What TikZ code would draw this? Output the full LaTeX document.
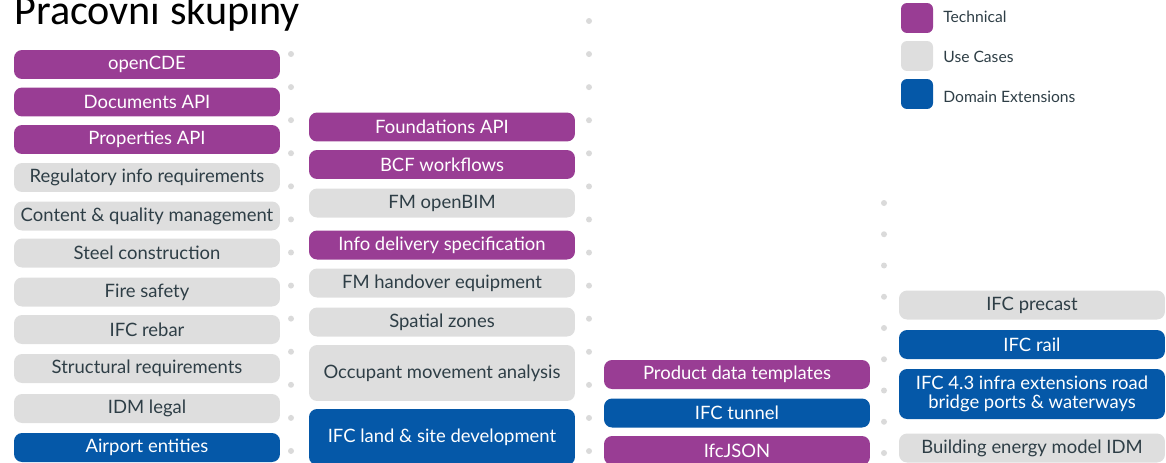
\documentclass[tikz,border=0pt]{standalone}
\usepackage{fontspec}
\newfontfamily\boxfont{Lato}
\newfontfamily\titlefont{Carlito}
\definecolor{techpurple}{RGB}{153,61,148}
\definecolor{usegray}{RGB}{222,222,222}
\definecolor{domblue}{RGB}{5,88,168}
\definecolor{usetext}{RGB}{46,62,70}
\definecolor{dotgray}{RGB}{218,218,218}
\tikzset{
  wgbox/.style={rounded corners=0.16cm, minimum width=5.32cm, minimum height=0.58cm,
    inner sep=0pt, align=center, font=\boxfont\fontsize{10.5}{11}\selectfont},
  tech/.style={wgbox, fill=techpurple, text=white},
  usecase/.style={wgbox, fill=usegray, text=usetext},
  domext/.style={wgbox, fill=domblue, text=white},
  legsquare/.style={rounded corners=0.12cm, minimum width=0.64cm, minimum height=0.6cm, inner sep=0pt},
  legtext/.style={anchor=west, inner sep=0pt, text=usetext, font=\boxfont\fontsize{8.9}{10}\selectfont}
}
\begin{document}
\begin{tikzpicture}[x=0.02cm, y=-0.02cm]
\useasboundingbox (0,0) rectangle (1166,463);

% titre
\node[anchor=base west, inner sep=0pt, font=\titlefont\fontsize{24}{26}\selectfont] (title) at (14,25) {Pracovni skupiny};

% pointillés entre les colonnes
\foreach \i in {0,...,12} {
  \fill[dotgray] (291,{54+\i*33.08}) circle (0.06cm);
}
\foreach \i in {0,...,13} {
  \fill[dotgray] (589,{21+\i*33.08}) circle (0.06cm);
}
\foreach \i in {0,...,8} {
  \fill[dotgray] (884,{203+\i*31.25}) circle (0.06cm);
}

% colonne 1
\node[tech] (opencde) at (147,64.5) {openCDE};
\node[tech] (docsapi) at (147,102) {Documents API};
\node[tech] (propsapi) at (147,139.5) {Properties API};
\node[usecase] (regul) at (147,177.5) {Regulatory info requirements};
\node[usecase] (contentq) at (147,216) {Content \& quality management};
\node[usecase] (steel) at (147,253) {Steel construction};
\node[usecase] (fire) at (147,292) {Fire safety};
\node[usecase] (rebar) at (147,329.5) {IFC rebar};
\node[usecase] (structreq) at (147,368.5) {Structural requirements};
\node[usecase] (idmlegal) at (147,408.5) {IDM legal};
\node[domext] (airport) at (147,447.5) {Airport entities};

% colonne 2
\node[tech] (foundapi) at (442,127) {Foundations API};
\node[tech] (bcf) at (442,164.5) {BCF workflows};
\node[usecase] (fmopenbim) at (442,203) {FM openBIM};
\node[tech] (idspec) at (442,245) {Info delivery specification};
\node[usecase] (fmhandover) at (442,283) {FM handover equipment};
\node[usecase] (spatial) at (442,322) {Spatial zones};
\node[usecase, minimum height=1.12cm] (occupant) at (442,373) {Occupant movement analysis};
\node[domext, minimum height=1.12cm] (landsite) at (442,437) {IFC land \& site development};

% colonne 3
\node[tech] (pdt) at (737,374.5) {Product data templates};
\node[domext] (tunnel) at (737,413) {IFC tunnel};
\node[tech] (ifcjson) at (737,450.5) {IfcJSON};

% colonne 4
\node[usecase] (precast) at (1032,305) {IFC precast};
\node[domext] (rail) at (1032,344.5) {IFC rail};
\node[domext, minimum height=1cm, font=\boxfont\fontsize{10.5}{10.5}\selectfont] (infra) at (1032,394) {IFC 4.3 infra extensions road\\bridge ports \& waterways};
\node[usecase] (energy) at (1032,448) {Building energy model IDM};

% légende
\node[legsquare, fill=techpurple] (legtech) at (917,18) {};
\node[legsquare, fill=usegray] (leguse) at (917,56) {};
\node[legsquare, fill=domblue] (legdom) at (917,94) {};
\node[legtext] (legtechtext) at (943,17) {Technical};
\node[legtext] (legusetext) at (943,57) {Use Cases};
\node[legtext] (legdomtext) at (943,97) {Domain Extensions};
\end{tikzpicture}
\end{document}
